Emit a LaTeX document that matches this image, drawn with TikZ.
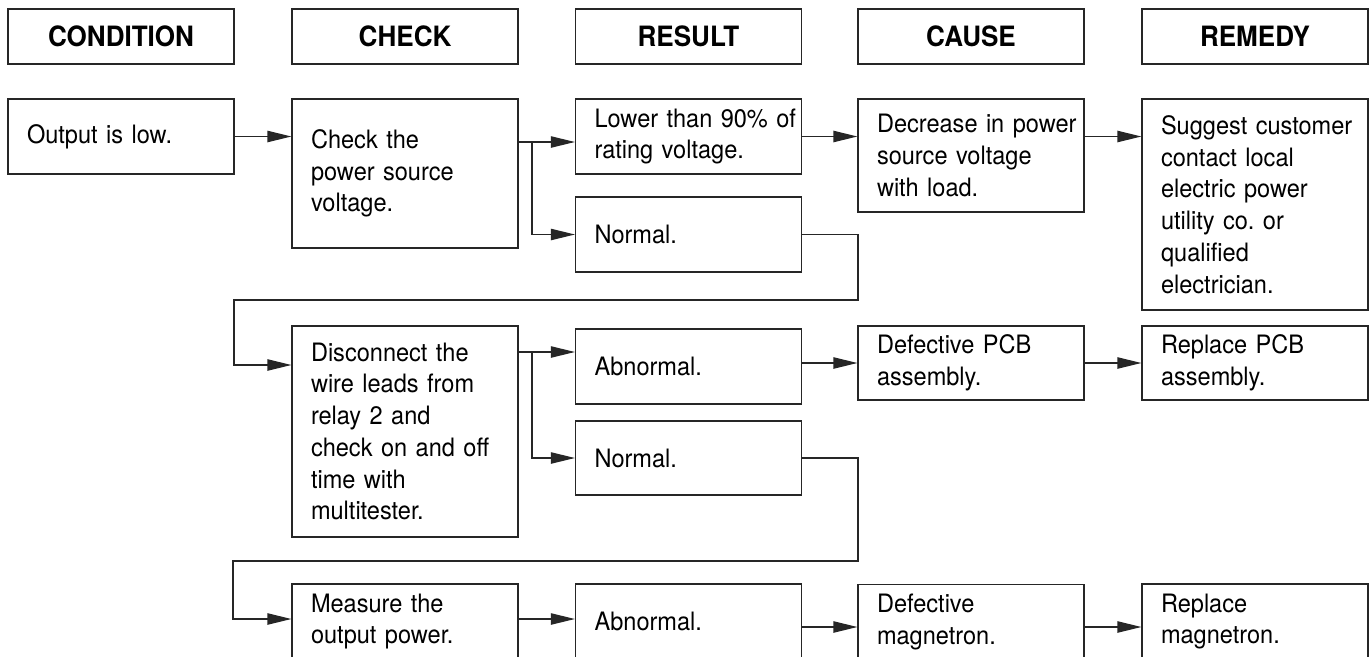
\documentclass[tikz,border=0pt]{standalone}
\usepackage{fontspec}
\setmainfont[FakeStretch=0.93]{TeX Gyre Heros}
\usetikzlibrary{arrows.meta}
\tikzset{
  ln/.style={line width=0.9pt, draw=black!85},
  hdr/.style={ln, draw, minimum width=169.5pt, minimum height=41.25pt, inner sep=0pt,
    font=\fontsize{21pt}{23pt}\selectfont\bfseries},
  box/.style={ln, draw, inner xsep=0pt, inner ysep=0pt, text width=169.5pt,
    font=\fontsize{19pt}{23.8pt}\selectfont,
    execute at begin node={\frenchspacing\raggedright\leftskip=14.25pt\rightskip=0pt plus 1fil\relax}},
  arr/.style={ln, -{Triangle[length=18pt,width=8.5pt]}},
  conn/.style={ln}
}
\begin{document}
\begin{tikzpicture}[x=0.75pt,y=-0.75pt]
\useasboundingbox (0,0) rectangle (1372,657);
\fill[white] (0,0) rectangle (1372,657);
\clip (0,0) rectangle (1372,657);
% headers
\node[hdr] (hcond)  at (121,36.5)   {CONDITION};
\node[hdr] (hcheck) at (405,36.5)   {CHECK};
\node[hdr] (hres)   at (688.5,36.5) {RESULT};
\node[hdr] (hcause) at (971,36.5)   {CAUSE};
\node[hdr] (hrem)   at (1255,36.5)  {REMEDY};
% row 1
\node[box, minimum height=56.25pt]  (cond)   at (121,136.5)   {Output is low.};
\node[box, minimum height=111.75pt] (check1) at (405,173.5)   {Check the\\power source\\voltage.};
\node[box, minimum height=56.25pt]  (res1)   at (688.5,136.5) {Lower than 90\% of\\rating voltage.};
\node[box, minimum height=56.25pt]  (norm1)  at (688.5,234.5) {Normal.};
\node[box, minimum height=84.75pt]  (cause1) at (971,155.5)   {Decrease in power\\source voltage\\with load.};
\node[box, minimum height=158.25pt] (rem1)   at (1255,204.5)  {Suggest customer\\contact local\\electric power\\utility co. or\\qualified\\electrician.};
% row 2
\node[box, minimum height=158.25pt] (check2) at (405,431.5)   {Disconnect the\\wire leads from\\relay 2 and\\check on and off\\time with\\multitester.};
\node[box, minimum height=56.25pt]  (abn2)   at (688.5,366.5) {Abnormal.};
\node[box, minimum height=55.5pt]   (norm2)  at (688.5,458)   {Normal.};
\node[box, minimum height=55.5pt]   (cause2) at (971,363)     {Defective PCB\\assembly.};
\node[box, minimum height=55.5pt]   (rem2)   at (1255,363)    {Replace PCB\\assembly.};
% row 3
\node[box, minimum height=56.25pt]  (meas)   at (405,621.5)   {Measure the\\output power.};
\node[box, minimum height=56.25pt]  (abn3)   at (688.5,621.5) {Abnormal.};
\node[box, minimum height=56.25pt]  (cause3) at (971,622)     {Defective\\magnetron.};
\node[box, minimum height=56.25pt]  (rem3)   at (1255,621.5)  {Replace\\magnetron.};
% helper coordinates
\coordinate (j1) at (532,142);
\coordinate (r1) at (858,300);
\coordinate (k1) at (234,300);
\coordinate (y2) at (0,365);
\coordinate (j2) at (532,352);
\coordinate (r2) at (858,561);
\coordinate (k2) at (233,561);
\coordinate (y3) at (0,619);
\coordinate (y3b) at (0,627);
% row 1 connectors
\draw[arr] (cond.east) -- (check1.west |- cond.east);
\draw[arr] (check1.east |- j1) -- (res1.west |- j1);
\draw[arr] (j1) |- (norm1.west);
\draw[arr] (res1.east) -- (cause1.west |- res1.east);
\draw[arr] (cause1.east |- res1.east) -- (rem1.west |- res1.east);
\draw[arr] (norm1.east) -| (r1) -- (k1) |- (check2.west |- y2);
% row 2 connectors
\draw[arr] (check2.east |- j2) -- (abn2.west |- j2);
\draw[arr] (j2) |- (norm2.west);
\draw[arr] (abn2.east |- cause2.west) -- (cause2.west);
\draw[arr] (cause2.east) -- (rem2.west);
\draw[arr] (norm2.east) -| (r2) -- (k2) |- (meas.west |- y3);
% row 3 connectors
\draw[arr] (meas.east |- y3) -- (abn3.west |- y3);
\draw[arr] (abn3.east |- y3b) -- (cause3.west |- y3b);
\draw[arr] (cause3.east |- y3b) -- (rem3.west |- y3b);
\end{tikzpicture}
\end{document}
